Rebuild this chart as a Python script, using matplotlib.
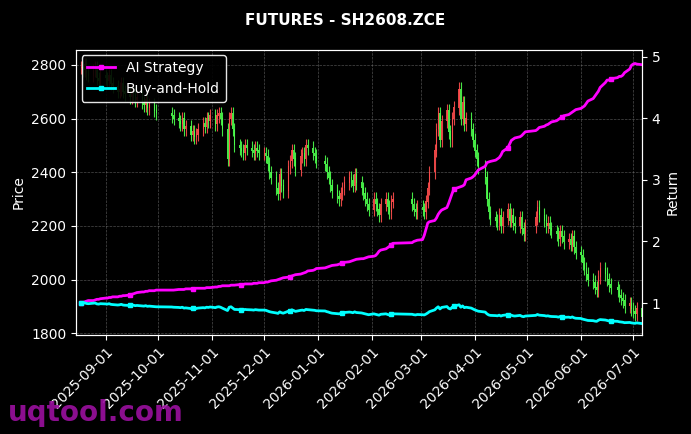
import numpy as np
import pandas as pd
import matplotlib
matplotlib.use("Agg")
import matplotlib.pyplot as plt
import matplotlib.dates as mdates

# trading days (Chinese holidays removed)
holidays = ["2025-10-01", "2025-10-02", "2025-10-03", "2025-10-06", "2025-10-07", "2025-10-08",
            "2026-01-01", "2026-01-02",
            "2026-02-16", "2026-02-17", "2026-02-18", "2026-02-19", "2026-02-20", "2026-02-23",
            "2026-04-06", "2026-05-01", "2026-05-04", "2026-05-05", "2026-06-19"]

closes = [
    # Aug
    2790, 2780, 2800, 2770, 2760, 2780, 2790, 2750, 2740, 2760,
    # Sep
    2750, 2740, 2760, 2730, 2720, 2700, 2710, 2730, 2700, 2690, 2680, 2700, 2690, 2670, 2680, 2660,
    2650, 2670, 2640, 2650, 2630, 2620,
    # Oct
    2610, 2600, 2590, 2580, 2600, 2560, 2570, 2540, 2550, 2530, 2540, 2560, 2580, 2570, 2600, 2590, 2610,
    # Nov
    2580, 2610, 2620, 2600, 2560, 2450, 2600, 2620, 2560, 2500, 2490, 2480, 2470, 2500, 2490,
    2480, 2470, 2490, 2480, 2470,
    # Dec
    2470, 2460, 2430, 2400, 2380, 2340, 2320, 2390, 2350, 2330, 2420, 2440, 2480, 2450, 2410,
    2460, 2470, 2450, 2500, 2490, 2470, 2460, 2440,
    # Jan
    2430, 2400, 2380, 2350, 2330, 2310, 2300, 2320, 2340, 2360, 2380, 2370, 2350, 2390, 2360,
    2340, 2320, 2300, 2280, 2260,
    # Feb
    2300, 2280, 2260, 2240, 2280, 2300, 2270, 2250, 2290, 2300, 2280, 2260, 2250, 2270,
    # Mar
    2260, 2250, 2290, 2340, 2400, 2480, 2560, 2620, 2520, 2590, 2630, 2550, 2520, 2600, 2640,
    2710, 2600, 2660, 2580, 2600, 2560, 2520,
    # Apr
    2480, 2450, 2420, 2380, 2300, 2250, 2230, 2220, 2210, 2240, 2200, 2230, 2260, 2220, 2240,
    2210, 2200, 2230, 2190, 2170, 2200,
    # May
    2230, 2270, 2240, 2220, 2200, 2210, 2190, 2180, 2170, 2150, 2180, 2160, 2140, 2150, 2130,
    2160, 2120, 2100,
    # Jun
    2090, 2060, 2040, 2020, 2000, 1990, 1970, 1960, 2010, 2040, 2020, 2000, 1980, 1970, 1960,
    1940, 1930, 1920, 1900, 1910, 1890,
    # Jul
    1880, 1870, 1890, 1860,
]

ai_strategy = [
    1.00, 1.01, 1.02, 1.03, 1.04, 1.04, 1.05, 1.06, 1.06, 1.07,
    1.08, 1.08, 1.09, 1.09, 1.10, 1.10, 1.11, 1.11, 1.12, 1.12, 1.13, 1.14, 1.15, 1.16, 1.17, 1.18,
    1.18, 1.19, 1.19, 1.20, 1.20, 1.21,
    1.21, 1.21, 1.22, 1.22, 1.22, 1.22, 1.23, 1.23, 1.23, 1.23, 1.24, 1.24, 1.24, 1.24, 1.25, 1.25, 1.25,
    1.26, 1.26, 1.27, 1.27, 1.28, 1.28, 1.28, 1.29, 1.29, 1.29, 1.30, 1.30, 1.30, 1.31, 1.31,
    1.31, 1.32, 1.32, 1.32, 1.33,
    1.33, 1.34, 1.34, 1.35, 1.36, 1.37, 1.38, 1.39, 1.40, 1.41, 1.42, 1.43, 1.44, 1.45, 1.46,
    1.47, 1.48, 1.49, 1.50, 1.52, 1.53, 1.54, 1.56,
    1.57, 1.58, 1.59, 1.60, 1.61, 1.62, 1.63, 1.64, 1.65, 1.66, 1.67, 1.68, 1.69, 1.70, 1.71,
    1.72, 1.72, 1.73, 1.74, 1.75,
    1.76, 1.77, 1.80, 1.84, 1.86, 1.88, 1.90, 1.92, 1.95, 1.97, 1.98, 2.00, 2.01, 2.02,
    2.03, 2.10, 2.20, 2.30, 2.32, 2.34, 2.38, 2.44, 2.48, 2.51, 2.55, 2.62, 2.70, 2.78, 2.85,
    2.88, 2.89, 2.90, 2.92, 3.00, 3.03, 3.05,
    3.08, 3.12, 3.16, 3.22, 3.28, 3.29, 3.30, 3.32, 3.34, 3.36, 3.40, 3.46, 3.52, 3.58, 3.64,
    3.66, 3.68, 3.70, 3.72, 3.75, 3.78,
    3.80, 3.82, 3.85, 3.87, 3.89, 3.90, 3.92, 3.94, 3.96, 3.98, 4.00, 4.02, 4.04, 4.06, 4.08,
    4.10, 4.12, 4.14,
    4.16, 4.18, 4.20, 4.24, 4.28, 4.32, 4.36, 4.40, 4.44, 4.50, 4.58, 4.62, 4.62, 4.64, 4.66,
    4.68, 4.68, 4.70, 4.74, 4.80, 4.86,
    4.88, 4.89, 4.88, 4.87,
]

dates = pd.bdate_range("2025-08-18", "2026-07-06")
dates = dates[~dates.isin(pd.to_datetime(holidays))]
n = min(len(dates), len(closes), len(ai_strategy))
dates = dates[:n]
closes = np.array(closes[:n], dtype=float)
ai = np.array(ai_strategy[:n])
opens = np.concatenate([[closes[0]], closes[:-1]])
highs = np.maximum(opens, closes) + 25
lows = np.minimum(opens, closes) - 25
buy_hold = closes / closes[0]

plt.rcParams["font.family"] = "DejaVu Sans"
fig = plt.figure(figsize=(6.91, 4.34), dpi=100, facecolor="black")
ax = fig.add_axes([0.110, 0.228, 0.819, 0.657], facecolor="black")

x = mdates.date2num(dates)
up = closes >= opens
cols = np.where(up, "#ff4d4d", "#4dff4d")
ax.vlines(x, lows, highs, colors=cols, linewidth=0.8, alpha=0.9)
ax.bar(x, np.abs(closes - opens) + 2, bottom=np.minimum(opens, closes), width=0.7,
       color=cols, alpha=0.9)

ax.set_ylim(1793, 2856)
ax.set_xlim(mdates.datestr2num("2025-08-15"), mdates.datestr2num("2026-07-06"))
ax.set_ylabel("Price", color="white")
ax.grid(color="grey", linestyle="--", linewidth=0.5, alpha=0.6)
ax.xaxis.set_major_locator(mdates.MonthLocator(bymonthday=1))
ax.xaxis.set_major_formatter(mdates.DateFormatter("%Y-%m-%d"))
plt.setp(ax.get_xticklabels(), rotation=45, ha="right", rotation_mode="anchor")
ax.tick_params(colors="white")
for s in ax.spines.values():
    s.set_color("white")

ax2 = ax.twinx()
ax2.plot(x, ai, color="#ff00ff", linewidth=2, marker="s", markersize=3, markevery=20,
         label="AI Strategy")
ax2.plot(x, buy_hold, color="#00ffff", linewidth=2, marker="s", markersize=3, markevery=20,
         label="Buy-and-Hold")
ax2.set_ylim(0.48, 5.11)
ax2.set_ylabel("Return", color="white")
ax2.tick_params(colors="white")
for s in ax2.spines.values():
    s.set_color("white")
leg = ax2.legend(loc="upper left", facecolor="black", edgecolor="white", labelcolor="white",
                 framealpha=0.9, borderaxespad=0.4)

fig.suptitle("FUTURES - SH2608.ZCE", color="white", fontweight="bold", fontsize=11, y=0.97)
fig.text(0.012, 0.03, "uqtool.com", color="#9b10a0", fontsize=20, fontweight="bold", alpha=0.9)

fig.savefig("out.png", dpi=100, facecolor="black")
